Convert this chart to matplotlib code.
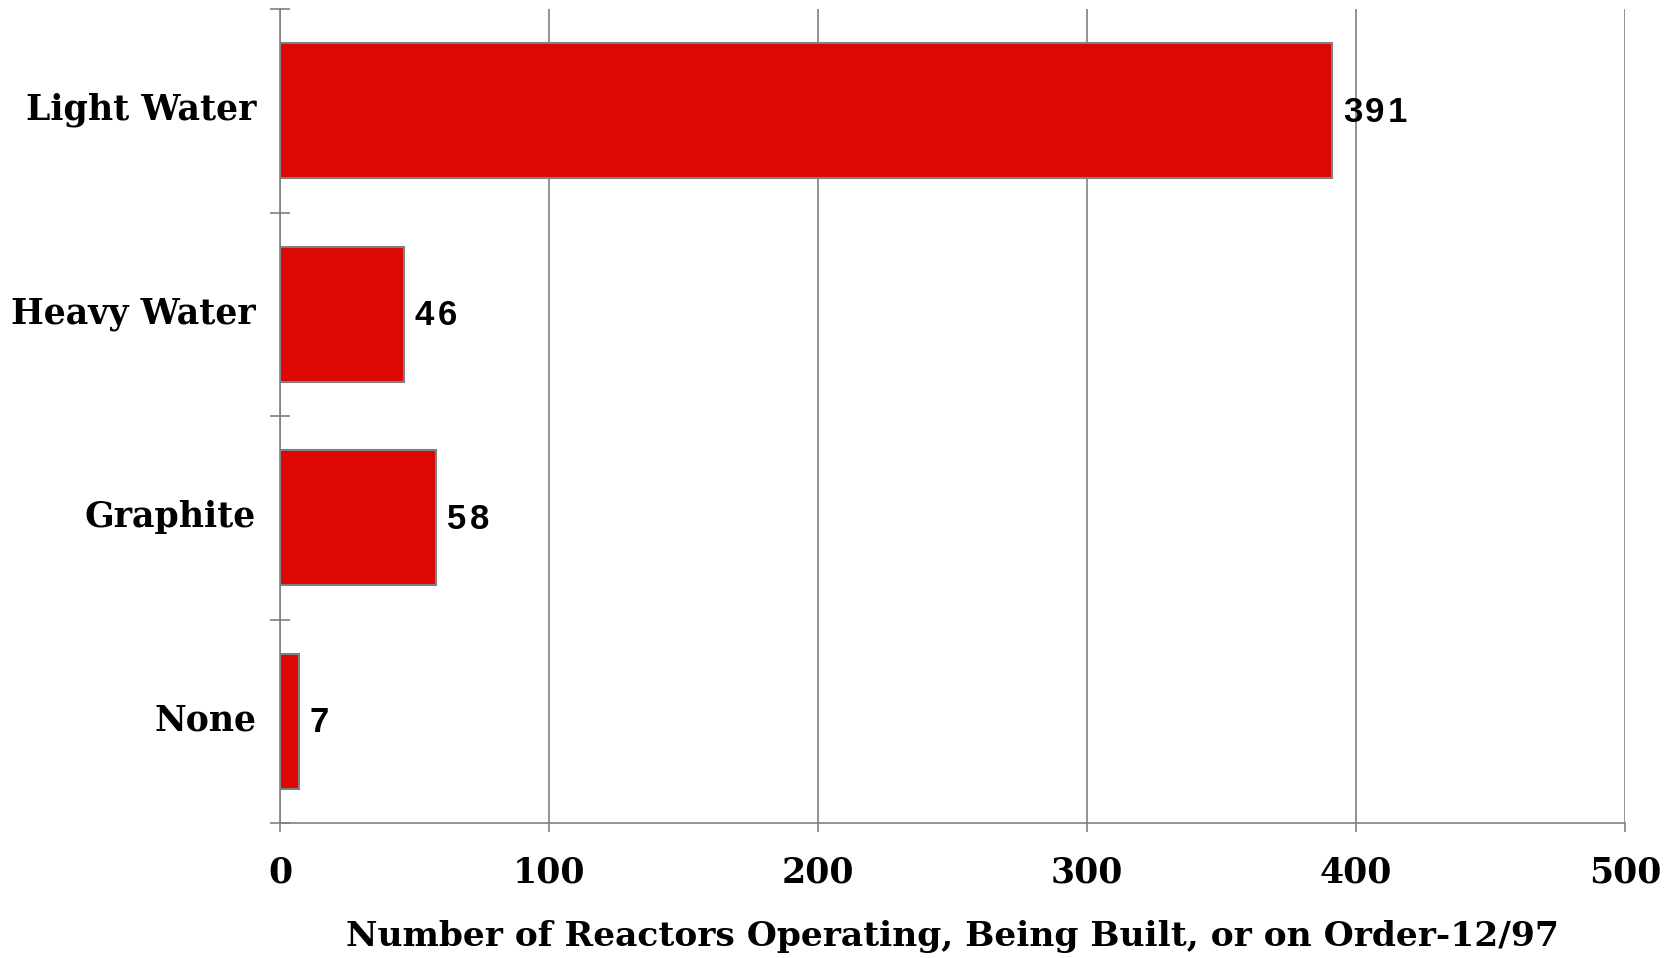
import matplotlib.pyplot as plt

# reactor counts by moderator type
moderators = ['Light Water', 'Heavy Water', 'Graphite', 'None']
reactors = [391, 46, 58, 7]
x_ticks = [0, 100, 200, 300, 400, 500]

serif = ['DejaVu Serif']
sans = ['Liberation Sans', 'DejaVu Sans']
grey = '#808080'
px = 72 / 100  # points per pixel at dpi 100

fig = plt.figure(figsize=(16.75, 9.58), dpi=100)
ax = fig.add_axes([0.1672, 0.1409, 0.8029, 0.8497])

pos = list(range(len(moderators)))
bars = ax.barh(pos, reactors, height=0.665, color='#dd0806',
               edgecolor=grey, linewidth=1.5, zorder=3)

# value labels, digits spread out a little
for b, v in zip(bars, reactors):
    yc = b.get_y() + b.get_height() / 2
    for i, ch in enumerate(str(v)):
        ax.annotate(ch, (b.get_width(), yc),
                    xytext=((11 + i * 22.5) * px, -11 * px),
                    textcoords='offset points', va='baseline', ha='left',
                    fontsize=25, fontweight='bold', family=sans)

ax.set_xlim(0, 500)
ax.set_ylim(len(moderators) - 0.5, -0.5)
ax.set_xticks(x_ticks)
ax.set_xticklabels([str(t) for t in x_ticks], family=serif,
                   fontweight='bold', fontsize=25)
ax.grid(axis='x', color=grey, linewidth=1.2, zorder=0)

# category boundaries get the ticks, names sit between them
ax.set_yticks([p - 0.5 for p in pos] + [pos[-1] + 0.5])
ax.set_yticklabels([])
for p, name in zip(pos, moderators):
    ax.annotate(name, (0, p), xycoords=ax.get_yaxis_transform(),
                xytext=(-24 * px, -9 * px), textcoords='offset points',
                ha='right', va='baseline', family=serif,
                fontweight='bold', fontsize=25)
ax.tick_params(axis='y', direction='inout', length=14, width=1.2, color=grey)
ax.tick_params(axis='x', direction='out', length=6.5, width=1.2,
               color=grey, pad=17)

for s in ['top', 'right']:
    ax.spines[s].set_visible(False)
for s in ['left', 'bottom']:
    ax.spines[s].set_color(grey)
    ax.spines[s].set_linewidth(1.2)

ax.set_xlabel('Number of Reactors Operating, Being Built, or on Order-12/97',
              family=serif, fontweight='bold', fontsize=24.8, labelpad=22)

fig.savefig('out.png', dpi=100)
